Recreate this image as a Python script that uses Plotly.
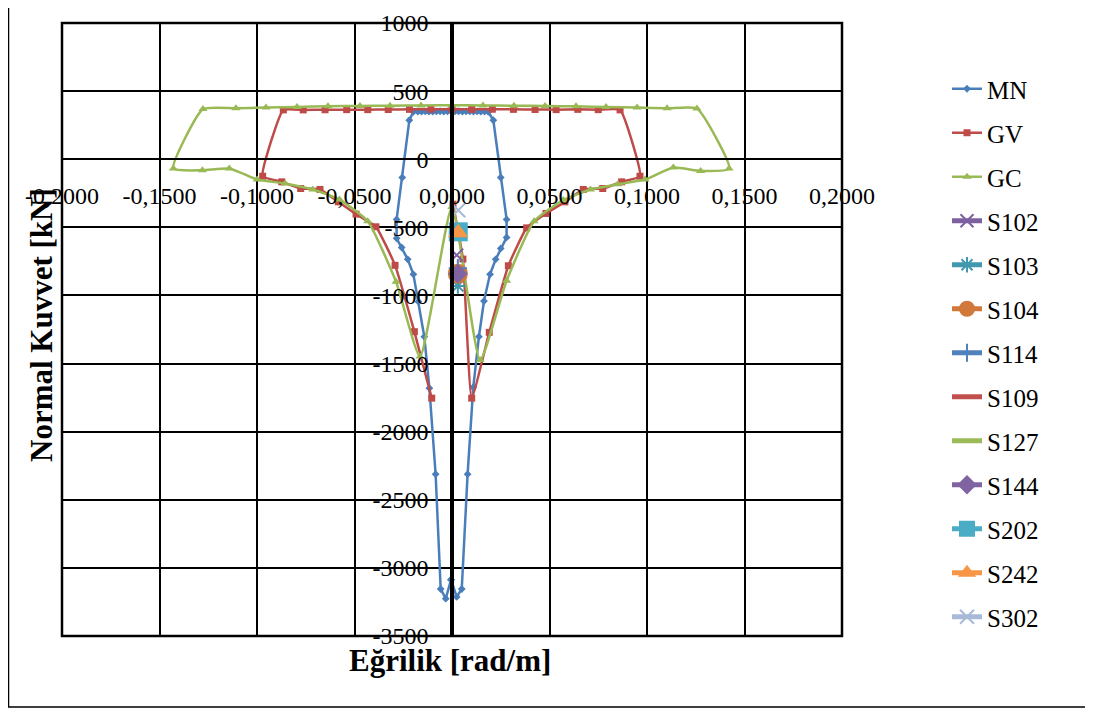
import plotly.graph_objects as go

# ---------------- data ----------------
mn_x = [-0.0005, 0.0024, 0.0050, 0.0080, 0.0109, 0.0138, 0.0164, 0.0195, 0.0224, 0.0250, 0.0280, 0.0280,
        0.0250, 0.0212, 0.0186, 0.0167, 0.0148, 0.0129, 0.0110, 0.0091, 0.0072, 0.0053, 0.0034, 0.0015,
        -0.0004, -0.0023, -0.0042, -0.0061, -0.0080, -0.0099, -0.0118, -0.0137, -0.0156, -0.0175, -0.0198,
        -0.0219, -0.0255, -0.0284, -0.0284, -0.0258, -0.0227, -0.0198, -0.0172, -0.0142, -0.0116, -0.0084,
        -0.0058, -0.0032, -0.0005]
mn_y = [-3087, -3213, -3155, -2312, -1674, -1303, -1041, -845, -735, -655, -574, -442,
        -134, 286, 348, 350, 349, 351, 350, 352, 351, 350, 352, 351,
        352, 351, 350, 352, 351, 350, 349, 351, 350, 349, 348,
        286, -134, -442, -581, -648, -735, -845, -1046, -1303, -1681, -2312,
        -3155, -3226, -3087]

gv_x = [0.0005, 0.0056, 0.0101, 0.0191, 0.0289, 0.0383, 0.0482, 0.0579, 0.0673, 0.0773, 0.0870, 0.0964,
        0.0862, 0.0750, 0.0645, 0.0534, 0.0426, 0.0315, 0.0207, 0.0101, 0.0000, -0.0108, -0.0218, -0.0327,
        -0.0432, -0.0540, -0.0651, -0.0763, -0.0865,
        -0.0971, -0.0873, -0.0776, -0.0677, -0.0583, -0.0492, -0.0390, -0.0292, -0.0193, -0.0104]
gv_y = [-330, -733, -1754, -1271, -782, -504, -398, -313, -222, -215, -166, -125,
        362, 364, 366, 364, 365, 366, 367, 366, 368, 367, 366, 365,
        364, 364, 363, 362, 362,
        -125, -166, -215, -222, -313, -403, -496, -779, -1266, -1754]

gc_x = [0.0000, 0.0144, 0.0280, 0.0421, 0.0571, 0.0710, 0.0850, 0.0990, 0.1135, 0.1275, 0.1421,
        0.1256, 0.1103, 0.0949, 0.0790, 0.0636, 0.0477, 0.0318, 0.0159, 0.0000, -0.0159, -0.0318,
        -0.0472, -0.0636, -0.0795, -0.0954, -0.1108, -0.1277,
        -0.1429, -0.1280, -0.1142, -0.0999, -0.0856, -0.0714, -0.0577, -0.0432, -0.0287, -0.0164, 0.0000]
gc_y = [-350, -1474, -892, -455, -300, -222, -183, -149, -61, -86, -68,
        372, 374, 379, 384, 388, 391, 393, 395, 396, 395, 393,
        391, 389, 384, 379, 374, 368,
        -68, -81, -68, -149, -178, -222, -296, -455, -900, -1449, -350]

single_names = ["S102", "S103", "S104", "S114", "S109", "S127", "S144", "S202", "S242", "S302"]
single_x = [0.0024, 0.0030, 0.0030, 0.0030, 0.0030, 0.0030, 0.0030, 0.0032, 0.0032, 0.0032]
single_y = [-704, -930, -840, -800, -700, -700, -840, -533, -540, -374]

x_tickvals = [-0.2, -0.15, -0.1, -0.05, 0.0, 0.05, 0.1, 0.15, 0.2]
x_ticktext = ["-0,2000", "-0,1500", "-0,1000", "-0,0500", "0,0000", "0,0500", "0,1000", "0,1500", "0,2000"]
y_tickvals = [1000, 500, 0, -500, -1000, -1500, -2000, -2500, -3000, -3500]
y_ticktext = ["1000", "500", "0", "-500", "-1000", "-1500", "-2000", "-2500", "-3000", "-3500"]

# ---------------- styles ----------------
FONT = "Liberation Serif"
single_styles = {
    "S102": dict(color="#7D60A0", symbol="x-thin-open", size=13, lw=2),
    "S103": dict(color="#4198AF", symbol="asterisk-open", size=13, lw=2),
    "S104": dict(color="#D0793A", symbol="circle", size=20, lw=0),
    "S114": dict(color="#4F81BD", symbol="cross-thin-open", size=13, lw=2),
    "S109": dict(color="#C0504D", symbol=None, size=0, lw=0),
    "S127": dict(color="#9BBB59", symbol=None, size=0, lw=0),
    "S144": dict(color="#8064A2", symbol="diamond", size=15, lw=0),
    "S202": dict(color="#4BACC6", symbol="square", size=19, lw=0),
    "S242": dict(color="#F79646", symbol="triangle-up", size=18, lw=0),
    "S302": dict(color="#A9B9D8", symbol="x-thin-open", size=14, lw=2),
}

fig = go.Figure()
fig.add_trace(go.Scatter(x=mn_x, y=mn_y, name="MN", mode="lines+markers", legendgroup="MN",
                         line=dict(color="#4A7EBB", width=2.5),
                         marker=dict(symbol="diamond", size=6, color="#4A7EBB")))
fig.add_trace(go.Scatter(x=gv_x, y=gv_y, name="GV", mode="lines+markers", legendgroup="GV",
                         line=dict(color="#BE4B48", width=2.5, shape="spline", smoothing=0.4),
                         marker=dict(symbol="square", size=7, color="#BE4B48")))
fig.add_trace(go.Scatter(x=gc_x, y=gc_y, name="GC", mode="lines+markers", legendgroup="GC",
                         line=dict(color="#98B954", width=2.5, shape="spline", smoothing=0.5),
                         marker=dict(symbol="triangle-up", size=8, color="#98B954")))

for nm, xv, yv in zip(single_names, single_x, single_y):
    st = single_styles[nm]
    if st["symbol"] is None:
        fig.add_trace(go.Scatter(x=[xv], y=[yv], name=nm, mode="lines", legendgroup=nm,
                                 line=dict(color=st["color"], width=5)))
    else:
        fig.add_trace(go.Scatter(x=[xv], y=[yv], name=nm, mode="lines+markers", legendgroup=nm,
                                 line=dict(color=st["color"], width=5),
                                 marker=dict(symbol=st["symbol"], size=st["size"], color=st["color"],
                                             line=dict(color=st["color"], width=st["lw"]))))

# page offset of the figure inside the browser body (default 8px body margin)
OFF = 8
PLOT_L, PLOT_T, PW, PH = 62, 23, 780, 613     # plot area in page pixels
W, H = 1093 - OFF, 709 - OFF
L, T = PLOT_L - OFF, PLOT_T - OFF
R, B = W - L - PW, H - T - PH


def px(page_x):
    return (page_x - PLOT_L) / PW


def py(page_y):
    return (PLOT_T + PH - page_y) / PH


fig.update_layout(
    width=W, height=H,
    margin=dict(l=L, r=R, t=T, b=B, pad=0, autoexpand=False),
    paper_bgcolor="white", plot_bgcolor="white",
    font=dict(family=FONT, size=24, color="black"),
    showlegend=True,
    legend=dict(x=px(947), y=py(66), xanchor="left", yanchor="top",
                font=dict(family=FONT, size=25, color="black"),
                tracegroupgap=8.5, bgcolor="rgba(0,0,0,0)"),
    xaxis=dict(range=[-0.2, 0.2], tickmode="array", tickvals=x_tickvals, ticktext=x_ticktext,
               showgrid=True, gridcolor="black", gridwidth=2, zeroline=False,
               showline=True, linecolor="black", linewidth=2, automargin=False,
               anchor="free", position=3500 / 4500,
               ticks="outside", ticklen=5, tickwidth=2, tickcolor="black",
               ticklabelstandoff=10, tickfont=dict(family=FONT, size=24)),
    yaxis=dict(range=[-3500, 1000], tickmode="array", tickvals=y_tickvals, ticktext=y_ticktext,
               showgrid=True, gridcolor="black", gridwidth=2, zeroline=False,
               showline=True, linecolor="black", linewidth=3.5, automargin=False,
               anchor="free", position=0.5,
               ticks="outside", ticklen=5, tickwidth=2, tickcolor="black",
               ticklabelstandoff=12, tickfont=dict(family=FONT, size=24)),
    shapes=[
        dict(type="rect", xref="paper", yref="paper", x0=0, x1=1, y0=0, y1=1,
             line=dict(color="black", width=2.5), layer="below"),
        dict(type="rect", xref="paper", yref="paper",
             x0=px(8.5), x1=px(1091), y0=py(707), y1=py(1),
             line=dict(color="black", width=1.5)),
    ],
    annotations=[
        dict(text="<b>Eğrilik [rad/m]</b>", xref="paper", yref="paper",
             x=px(450), y=py(660), xanchor="center", yanchor="middle",
             showarrow=False, font=dict(family=FONT, size=31, color="black")),
        dict(text="<b>Normal Kuvvet [kN]</b>", xref="paper", yref="paper",
             x=px(41), y=py(325), xanchor="center", yanchor="middle", textangle=-90,
             showarrow=False, font=dict(family=FONT, size=31, color="black")),
    ],
)

fig.write_html("out.html")
